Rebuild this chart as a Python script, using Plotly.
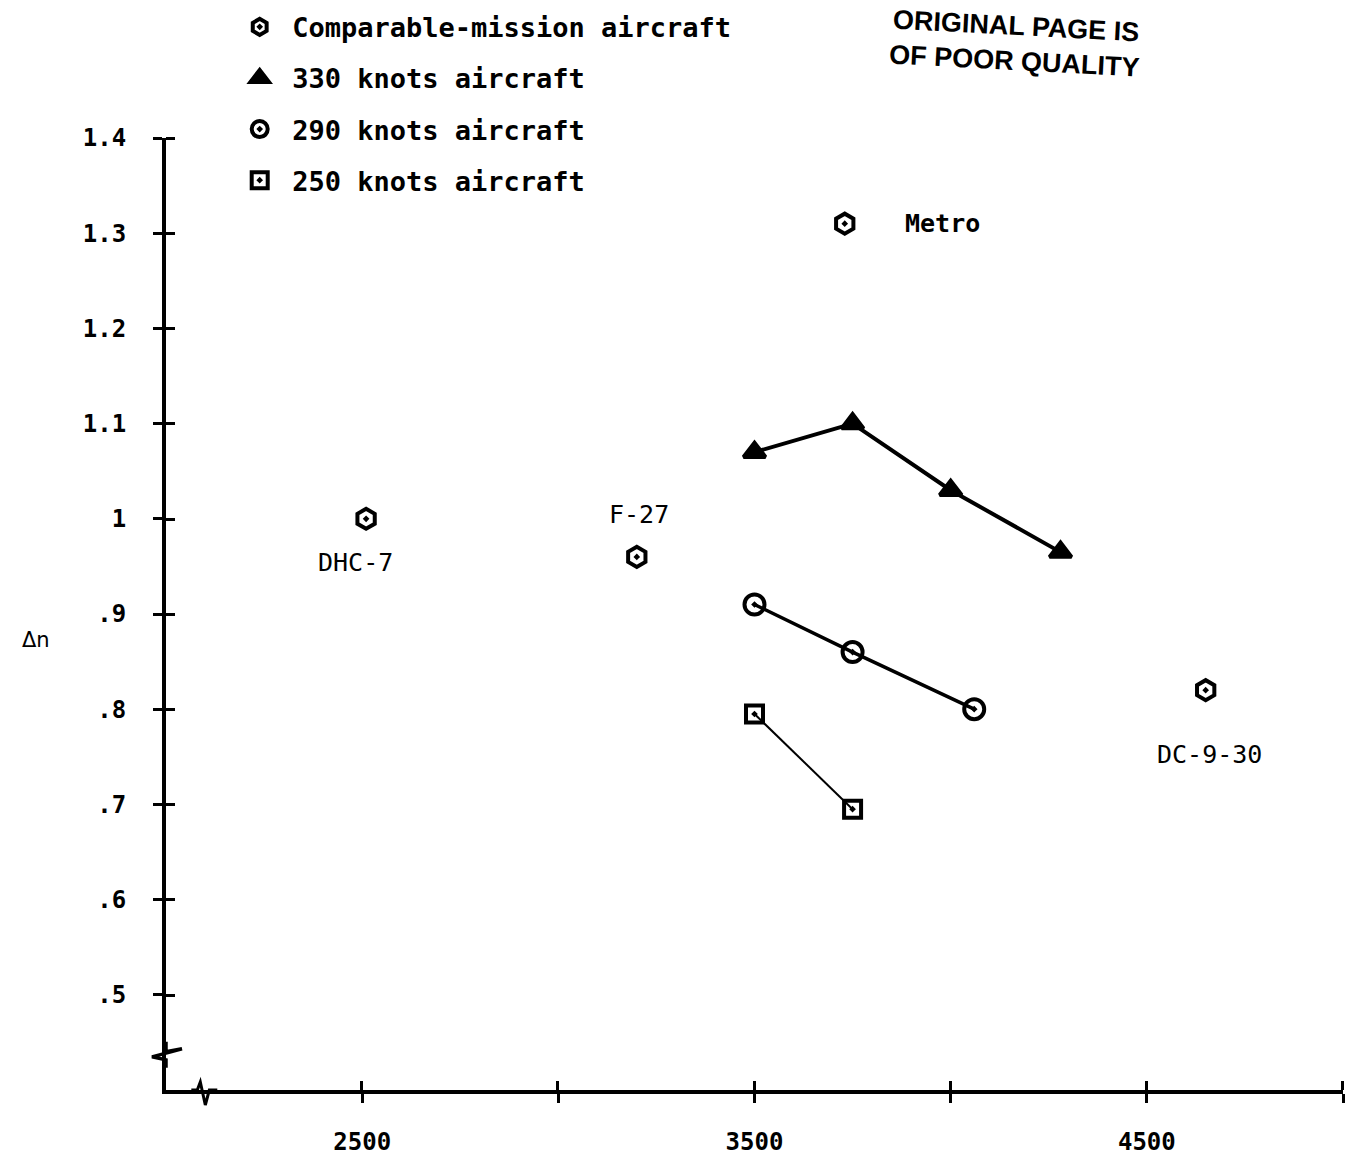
import plotly.graph_objects as go

# ---------------- data ----------------
comp_names = ["DHC-7", "F-27", "Metro", "DC-9-30"]
comp_x = [2510, 3200, 3730, 4650]
comp_y = [1.00, 0.96, 1.31, 0.82]

k330_x = [3500, 3750, 4000, 4280]
k330_y = [1.07, 1.10, 1.03, 0.965]

k290_x = [3500, 3750, 4060]
k290_y = [0.91, 0.86, 0.80]

k250_x = [3500, 3750]
k250_y = [0.795, 0.695]

y_tickvals = [0.5, 0.6, 0.7, 0.8, 0.9, 1.0, 1.1, 1.2, 1.3, 1.4]
y_ticktext = [".5", ".6", ".7", ".8", ".9", "1", "1.1", "1.2", "1.3", "1.4"]
x_tickvals = [2500, 3000, 3500, 4000, 4500, 5000]
x_ticktext = ["2500", "", "3500", "", "4500", ""]

legend_names = ["Comparable-mission aircraft", "330 knots aircraft",
                "290 knots aircraft", "250 knots aircraft"]

# ---------------- styles ----------------
MONO = "DejaVu Sans Mono"
INK = "black"
X_RANGE = [2000, 5000]
Y_RANGE = [0.4, 1.4]
label_style = {  # pixel offsets of the point labels
    "DHC-7": dict(xshift=-11, yshift=-44, xanchor="center"),
    "F-27": dict(xshift=2, yshift=42, xanchor="center"),
    "Metro": dict(xshift=58, yshift=0, xanchor="left"),
    "DC-9-30": dict(xshift=4, yshift=-64, xanchor="center"),
}

fig = go.Figure()

# connecting lines (not in legend)
for xs, ys, w in [(k330_x, k330_y, 4), (k290_x, k290_y, 3.5), (k250_x, k250_y, 2)]:
    fig.add_trace(go.Scatter(x=xs, y=ys, mode="lines",
                             line=dict(color=INK, width=w), showlegend=False,
                             hoverinfo="skip"))

marker_sets = [
    (comp_x, comp_y, "hexagon-open-dot", 20),
    (k330_x, k330_y, "triangle-up", 19),
    (k290_x, k290_y, "circle-open-dot", 20),
    (k250_x, k250_y, "square-open-dot", 17),
]
for i, ((xs, ys, sym, sz), name) in enumerate(zip(marker_sets, legend_names)):
    fig.add_trace(go.Scatter(
        x=xs, y=ys, mode="markers", name=name, legendgroup=f"g{i}",
        marker=dict(symbol=sym, size=sz, color=INK,
                    line=dict(color=INK, width=4)),
    ))

for n, x, y in zip(comp_names, comp_x, comp_y):
    st = label_style[n]
    fig.add_annotation(x=x, y=y, text=n, showarrow=False,
                       xshift=st["xshift"], yshift=st["yshift"],
                       xanchor=st["xanchor"], yanchor="middle",
                       font=dict(family=MONO, size=25, color=INK,
                                 weight="bold" if n == "Metro" else "normal"))

# Δn axis title
fig.add_annotation(xref="paper", yref="paper", x=-0.124, y=0.473, text="Δn",
                   showarrow=False, xanchor="left", yanchor="middle",
                   font=dict(family="DejaVu Sans", size=21, color=INK))

# stamp text at top right
fig.add_annotation(xref="paper", yref="paper", x=0.722, y=1.056,
                   text="ORIGINAL PAGE IS<br>OF POOR QUALITY", showarrow=False,
                   textangle=3, xanchor="center", yanchor="bottom", align="center",
                   font=dict(family="Liberation Sans", size=27, color=INK, weight="bold"))

# axis break marks (pixel-sized paths anchored to the axes corner)
fig.add_shape(type="path", xref="paper", yref="paper", xsizemode="pixel", ysizemode="pixel",
              xanchor=0, yanchor=0.038,
              path="M 0,12 L 0,2 L 16,5 L -14,-3 L 0,-6 L 0,-14",
              line=dict(color=INK, width=3.5))
fig.add_shape(type="path", xref="paper", yref="paper", xsizemode="pixel", ysizemode="pixel",
              xanchor=0.03, yanchor=0,
              path="M -10,0 L -4,0 L -1,8 L 4,-15 L 8,0 L 16,0",
              line=dict(color=INK, width=3))

tickfont = dict(family=MONO, size=24, color=INK, weight="bold")
axis_common = dict(showgrid=False, zeroline=False, automargin=False)

fig.update_layout(
    template="none",
    width=1356, height=1163,
    margin=dict(l=166, r=13, t=138, b=73, autoexpand=False),
    paper_bgcolor="white", plot_bgcolor="white",
    showlegend=True,
    legend=dict(x=0.052, y=1.142, xanchor="left", yanchor="top",
                font=dict(family=MONO, size=27, color=INK, weight="bold"),
                tracegroupgap=13, itemwidth=55, bgcolor="rgba(0,0,0,0)"),
    xaxis=dict(range=X_RANGE, tickvals=x_tickvals, ticktext=x_ticktext,
               ticks="outside", ticklen=9, tickwidth=3, tickcolor=INK,
               minor=dict(tickvals=[v - 1 for v in x_tickvals], ticks="inside",
                          ticklen=9, tickwidth=3, tickcolor=INK, showgrid=False),
               showline=True, linewidth=4, linecolor=INK,
               tickfont=tickfont, ticklabelstandoff=18, **axis_common),
    yaxis=dict(range=Y_RANGE, tickvals=y_tickvals, ticktext=y_ticktext,
               ticks="outside", ticklen=9, tickwidth=3, tickcolor=INK,
               minor=dict(tickvals=[v - 0.0003 for v in y_tickvals], ticks="inside",
                          ticklen=9, tickwidth=3, tickcolor=INK, showgrid=False),
               showline=True, linewidth=4, linecolor=INK,
               tickfont=tickfont, ticklabelstandoff=22, **axis_common),
)

fig.write_html("out.html")
